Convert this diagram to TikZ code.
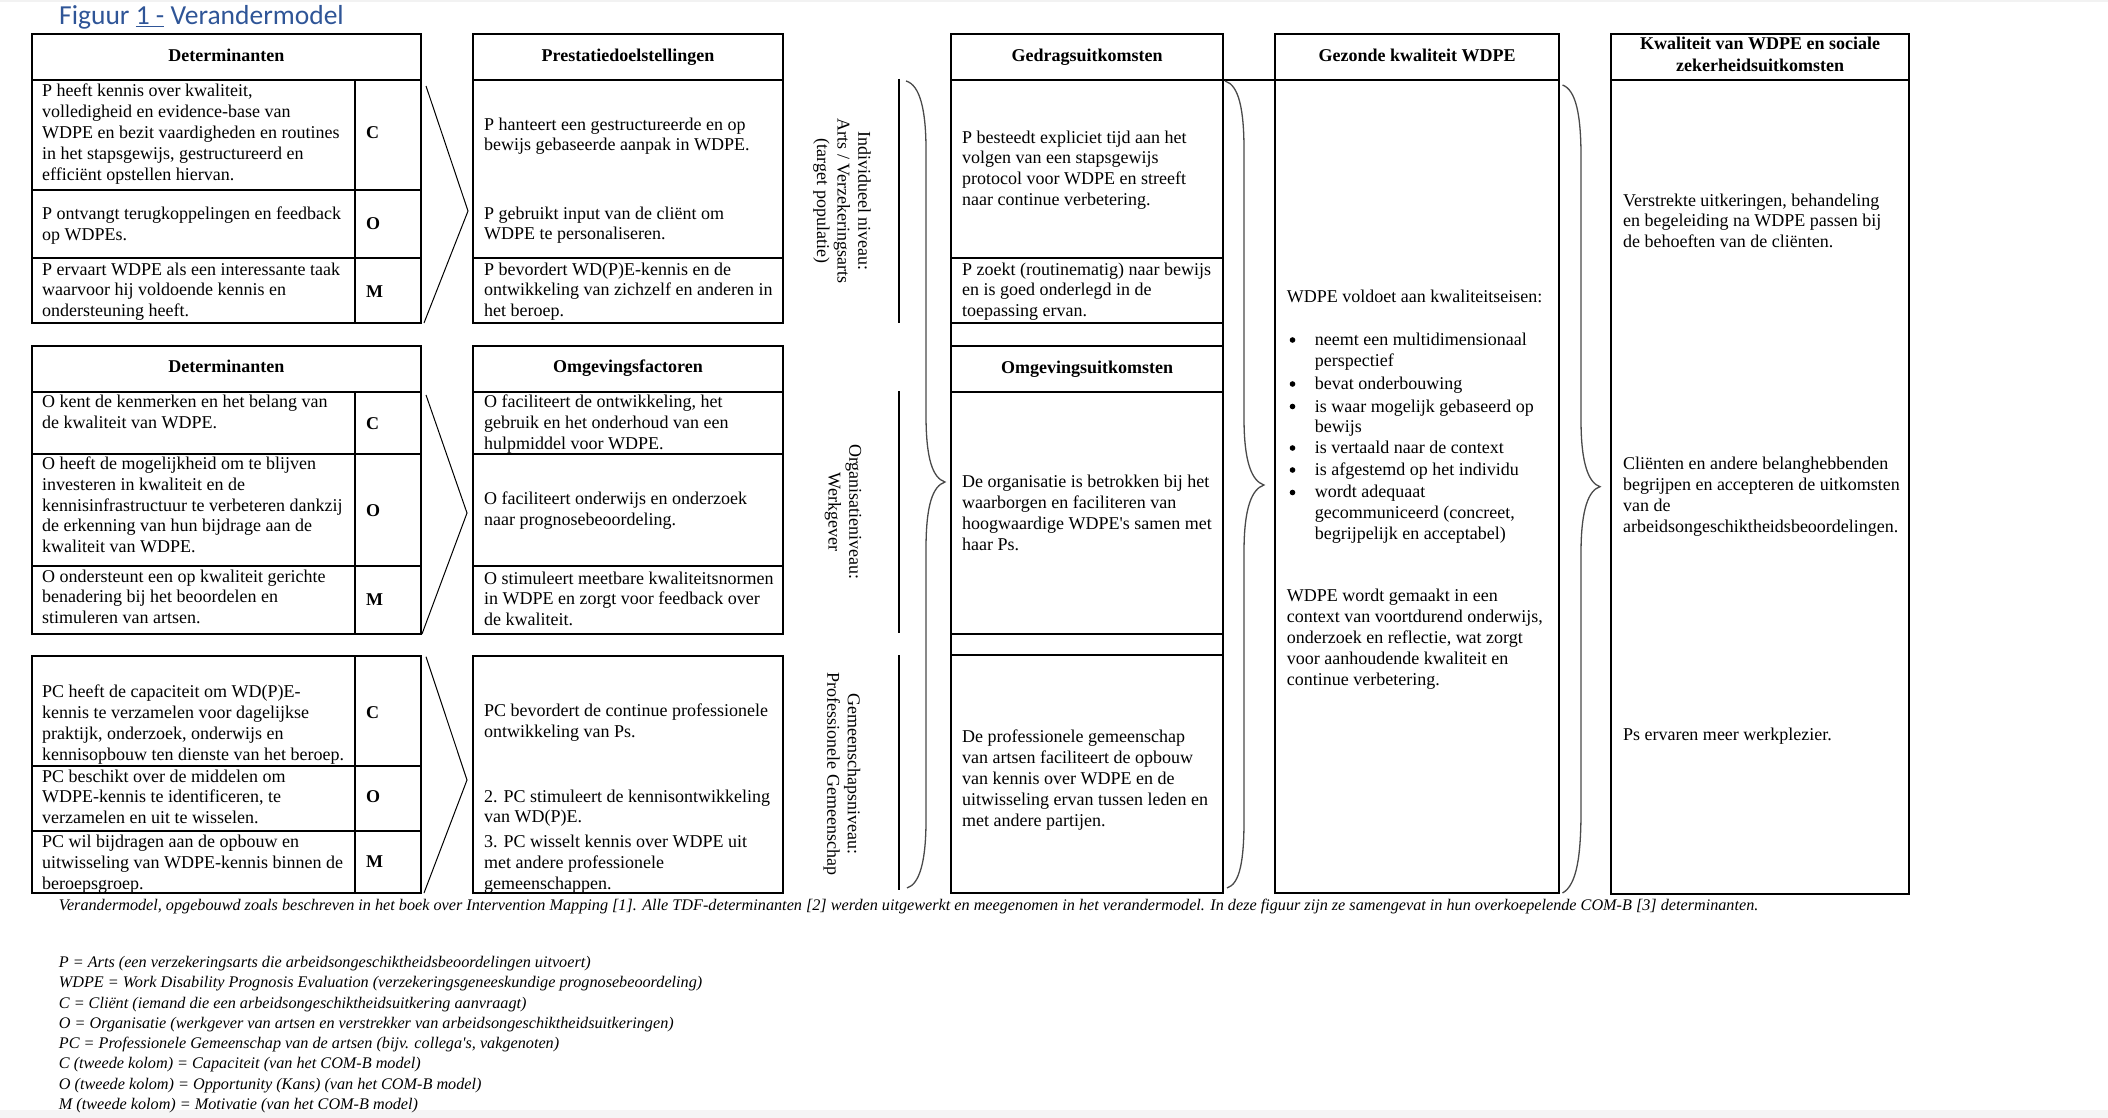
\documentclass[tikz,border=0pt]{standalone}
\usepackage{fontspec}
\setmainfont{Liberation Serif}
\newfontfamily\titlefont{Carlito}
\definecolor{titleblue}{HTML}{2F5597}
\definecolor{bracegray}{HTML}{4A4A4A}
\begin{document}
\begin{tikzpicture}[x=1pt,y=-1pt,
  tbl/.style={draw=black,line width=2pt},
  chevron/.style={draw=black,line width=1pt,line join=miter},
  bracepath/.style={draw=bracegray,line width=1.3pt},
  vbar/.style={draw=black,line width=1.8pt},
  txt/.style={anchor=north west,inner sep=0pt,align=left,font=\fontsize{18}{20.9}\selectfont},
  hdr/.style={inner sep=0pt,align=center,text height=12.5pt,text depth=4pt,font=\fontsize{18}{22}\selectfont\bfseries},
  hdrtwo/.style={anchor=north,inner sep=0pt,align=center,font=\fontsize{18}{22}\selectfont\bfseries},
  com/.style={anchor=base west,inner sep=0pt,font=\fontsize{18}{21}\selectfont\bfseries},
  one/.style={anchor=base west,inner sep=0pt,font=\fontsize{18}{21}\selectfont},
  lvl/.style={rotate=-90,inner sep=0pt,align=center,font=\fontsize{18}{20.6}\selectfont},
  captxt/.style={anchor=base west,inner sep=0pt,font=\fontsize{16.2}{20.3}\selectfont\itshape},
  legend/.style={anchor=north west,inner sep=0pt,align=left,font=\fontsize{16.2}{20.3}\selectfont\itshape}]
\useasboundingbox (0,0) rectangle (2108,1118);
\fill[black!5] (0,0) rectangle (2108,2);
\fill[black!4] (0,1110) rectangle (2108,1118);

% title
\node[anchor=base west,inner sep=0pt,text=titleblue,font=\titlefont\fontsize{27.5}{30}\selectfont] (title) at (59,25) {Figuur \underline{1 -} Verandermodel};

% ---------- level 1 : individueel ----------
\draw[tbl] (31.6,34) rectangle (421,323);
\draw[tbl] (31.6,80) -- (421,80) (355,80) -- (355,323) (31.6,190) -- (421,190) (31.6,258) -- (421,258);
\node[hdr] (h1) at (226.3,57) {Determinanten};
\node[txt] (d1c) at (42,84.1) {P heeft kennis over kwaliteit,\\volledigheid en evidence-base van\\WDPE en bezit vaardigheden en routines\\in het stapsgewijs, gestructureerd en\\efficiënt opstellen hiervan.};
\node[txt] (d1o) at (42,206.4) {P ontvangt terugkoppelingen en feedback\\op WDPEs.};
\node[txt] (d1m) at (42,262.4) {P ervaart WDPE als een interessante taak\\waarvoor hij voldoende kennis en\\ondersteuning heeft.};
\node[com] (c1) at (366,139) {C};
\node[com] (o1) at (366,229) {O};
\node[com] (m1) at (366,297) {M};
\draw[chevron] (426,86) -- (468,211) -- (424,323);

\draw[tbl] (473,34) rectangle (783,323);
\draw[tbl] (473,80) -- (783,80) (473,258) -- (783,258);
\node[hdr] (h2) at (628,57) {Prestatiedoelstellingen};
\node[txt] (p1a) at (484,117.4) {P hanteert een gestructureerde en op\\bewijs gebaseerde aanpak in WDPE.};
\node[txt] (p1b) at (484,206.4) {P gebruikt input van de cliënt om\\WDPE te personaliseren.};
\node[txt] (p1c) at (484,262.4) {P bevordert WD(P)E-kennis en de\\ontwikkeling van zichzelf en anderen in\\het beroep.};

% ---------- level 2 : organisatie ----------
\draw[tbl] (31.6,345.7) rectangle (421,634);
\draw[tbl] (31.6,391.7) -- (421,391.7) (355,391.7) -- (355,634) (31.6,454) -- (421,454) (31.6,565.7) -- (421,565.7);
\node[hdr] (h3) at (226.3,368.7) {Determinanten};
\node[txt] (d2c) at (42,395.1) {O kent de kenmerken en het belang van\\de kwaliteit van WDPE.};
\node[txt] (d2o) at (42,456.4) {O heeft de mogelijkheid om te blijven\\investeren in kwaliteit en de\\kennisinfrastructuur te verbeteren dankzij\\de erkenning van hun bijdrage aan de\\kwaliteit van WDPE.};
\node[txt] (d2m) at (42,569.4) {O ondersteunt een op kwaliteit gerichte\\benadering bij het beoordelen en\\stimuleren van artsen.};
\node[com] (c2) at (366,429) {C};
\node[com] (o2) at (366,516) {O};
\node[com] (m2) at (366,605) {M};
\draw[chevron] (426,395) -- (467,513) -- (422,634);

\draw[tbl] (473,345.7) rectangle (783,634);
\draw[tbl] (473,391.7) -- (783,391.7) (473,454) -- (783,454) (473,565.7) -- (783,565.7);
\node[hdr] (h4) at (628,368.7) {Omgevingsfactoren};
\node[txt] (o2a) at (484,395.1) {O faciliteert de ontwikkeling, het\\gebruik en het onderhoud van een\\hulpmiddel voor WDPE.};
\node[txt] (o2b) at (484,491.4) {O faciliteert onderwijs en onderzoek\\naar prognosebeoordeling.};
\node[txt] (o2c) at (484,571.4) {O stimuleert meetbare kwaliteitsnormen\\in WDPE en zorgt voor feedback over\\de kwaliteit.};

% ---------- level 3 : gemeenschap ----------
\draw[tbl] (31.6,655.7) rectangle (421,893);
\draw[tbl] (355,655.7) -- (355,893) (31.6,766) -- (421,766) (31.6,830.7) -- (421,830.7);
\node[txt] (d3c) at (42,685.1) {PC heeft de capaciteit om WD(P)E-\\kennis te verzamelen voor dagelijkse\\praktijk, onderzoek, onderwijs en\\kennisopbouw ten dienste van het beroep.};
\node[txt] (d3o) at (42,769.4) {PC beschikt over de middelen om\\WDPE-kennis te identificeren, te\\verzamelen en uit te wisselen.};
\node[txt] (d3m) at (42,835.1) {PC wil bijdragen aan de opbouw en\\uitwisseling van WDPE-kennis binnen de\\beroepsgroep.};
\node[com] (c3) at (366,718.7) {C};
\node[com] (o3) at (366,802.7) {O};
\node[com] (m3) at (366,867.7) {M};
\draw[chevron] (426,656.7) -- (467,780) -- (424,893);

\draw[tbl] (473,655.7) rectangle (783,893);
\node[txt] (c3a) at (484,703.4) {PC bevordert de continue professionele\\ontwikkeling van Ps.};
\node[txt] (c3b) at (484,789.4) {2. PC stimuleert de kennisontwikkeling\\van WD(P)E.};
\node[txt] (c3c) at (484,835.1) {3. PC wisselt kennis over WDPE uit\\met andere professionele\\gemeenschappen.};

% ---------- level labels ----------
\node[lvl] (lv1) at (842,201) {Individueel niveau:\\Arts / Verzekeringsarts\\(target populatie)};
\node[lvl] (lv2) at (843,512) {Organisatieniveau:\\Werkgever};
\node[lvl] (lv3) at (842,774) {Gemeenschapsniveau:\\Professionele Gemeenschap};
\draw[vbar] (899,79) -- (899,323) (899,391) -- (899,633) (899,655) -- (899,890);

% ---------- brace 1 ----------
\draw[bracepath] (906,81) .. controls (920,85) and (926,110) .. (926,150) -- (926,415)
  .. controls (926,460) and (933,478) .. (945,482) .. controls (933,486) and (926,504) .. (926,549)
  -- (926,820) .. controls (926,860) and (920,884) .. (907,888);

% ---------- middle column ----------
\draw[tbl] (951,34) rectangle (1223,893);
\draw[tbl] (951,80) -- (1223,80) (951,258) -- (1223,258) (951,323) -- (1223,323) (951,346) -- (1223,346)
  (951,392) -- (1223,392) (951,634) -- (1223,634) (951,655) -- (1223,655);
\node[hdr] (h5) at (1087,57) {Gedragsuitkomsten};
\node[hdr] (h6) at (1087,369) {Omgevingsuitkomsten};
\node[txt] (mc1) at (962,130.4) {P besteedt expliciet tijd aan het\\volgen van een stapsgewijs\\protocol voor WDPE en streeft\\naar continue verbetering.};
\node[txt] (mc2) at (962,262.4) {P zoekt (routinematig) naar bewijs\\en is goed onderlegd in de\\toepassing ervan.};
\node[txt] (mc3) at (962,475.1) {De organisatie is betrokken bij het\\waarborgen en faciliteren van\\hoogwaardige WDPE\textquotesingle s samen met\\haar Ps.};
\node[txt] (mc4) at (962,730.1) {De professionele gemeenschap\\van artsen faciliteert de opbouw\\van kennis over WDPE en de\\uitwisseling ervan tussen leden en\\met andere partijen.};
\draw[tbl] (1223,80) -- (1274.6,80);

% ---------- brace 2 ----------
\draw[bracepath] (1225,81) .. controls (1239,85) and (1244,110) .. (1244,150) -- (1244,418)
  .. controls (1244,463) and (1252,481) .. (1264,485) .. controls (1252,489) and (1244,507) .. (1244,552)
  -- (1244,820) .. controls (1244,860) and (1240,884) .. (1227,888);

% ---------- gezonde kwaliteit ----------
\draw[tbl] (1274.6,34) rectangle (1559,893);
\draw[tbl] (1274.6,80) -- (1559,80);
\node[hdr] (h7) at (1417,57) {Gezonde kwaliteit WDPE};
\node[one] (g1) at (1286.6,302.7) {WDPE voldoet aan kwaliteitseisen:};
\node[txt] (b1) at (1314.7,332.7) {neemt een multidimensionaal\\perspectief};
\node[txt] (b2) at (1314.7,376.7) {bevat onderbouwing};
\node[txt] (b3) at (1314.7,399.4) {is waar mogelijk gebaseerd op\\bewijs};
\node[txt] (b4) at (1314.7,440.7) {is vertaald naar de context};
\node[txt] (b5) at (1314.7,462.7) {is afgestemd op het individu};
\node[txt] (b6) at (1314.7,485.1) {wordt adequaat\\gecommuniceerd (concreet,\\begrijpelijk en acceptabel)};
\foreach \yy in {340,384,406.5,448,470,492.5} \fill (1292.5,\yy) circle (2.8);
\node[txt] (g2) at (1286.6,589.1) {WDPE wordt gemaakt in een\\context van voortdurend onderwijs,\\onderzoek en reflectie, wat zorgt\\voor aanhoudende kwaliteit en\\continue verbetering.};

% ---------- brace 3 ----------
\draw[bracepath] (1562.5,85) .. controls (1576,90) and (1581,115) .. (1581,157) -- (1581,420)
  .. controls (1581,465) and (1589,483) .. (1600,486.7) .. controls (1589,490) and (1581,508) .. (1581,553)
  -- (1581,810) .. controls (1581,855) and (1577,885) .. (1562.5,893);

% ---------- kwaliteit & sociale zekerheid ----------
\draw[tbl] (1610.7,34) rectangle (1909,894);
\draw[tbl] (1610.7,80) -- (1909,80);
\node[hdrtwo] (h8) at (1760,36.5) {Kwaliteit van WDPE en sociale\\zekerheidsuitkomsten};
\node[txt] (k1) at (1622.8,193.4) {Verstrekte uitkeringen, behandeling\\en begeleiding na WDPE passen bij\\de behoeften van de cliënten.};
\node[txt] (k2) at (1622.8,456.7) {Cliënten en andere belanghebbenden\\begrijpen en accepteren de uitkomsten\\van de\\arbeidsongeschiktheidsbeoordelingen.};
\node[one] (k3) at (1622.8,740) {Ps ervaren meer werkplezier.};

% ---------- caption & legend ----------
\node[captxt] (caption) at (58.7,910) {Verandermodel, opgebouwd zoals beschreven in het boek over Intervention Mapping [1]. Alle TDF-determinanten [2] werden uitgewerkt en meegenomen in het verandermodel. In deze figuur zijn ze samengevat in hun overkoepelende COM-B [3] determinanten.};
\node[legend] (legend) at (58.7,956) {P = Arts (een verzekeringsarts die arbeidsongeschiktheidsbeoordelingen uitvoert)\\
WDPE = Work Disability Prognosis Evaluation (verzekeringsgeneeskundige prognosebeoordeling)\\
C = Cliënt (iemand die een arbeidsongeschiktheidsuitkering aanvraagt)\\
O = Organisatie (werkgever van artsen en verstrekker van arbeidsongeschiktheidsuitkeringen)\\
PC = Professionele Gemeenschap van de artsen (bijv. collega\textquotesingle s, vakgenoten)\\
C (tweede kolom) = Capaciteit (van het COM-B model)\\
O (tweede kolom) = Opportunity (Kans) (van het COM-B model)\\
M (tweede kolom) = Motivatie (van het COM-B model)};
\end{tikzpicture}
\end{document}
